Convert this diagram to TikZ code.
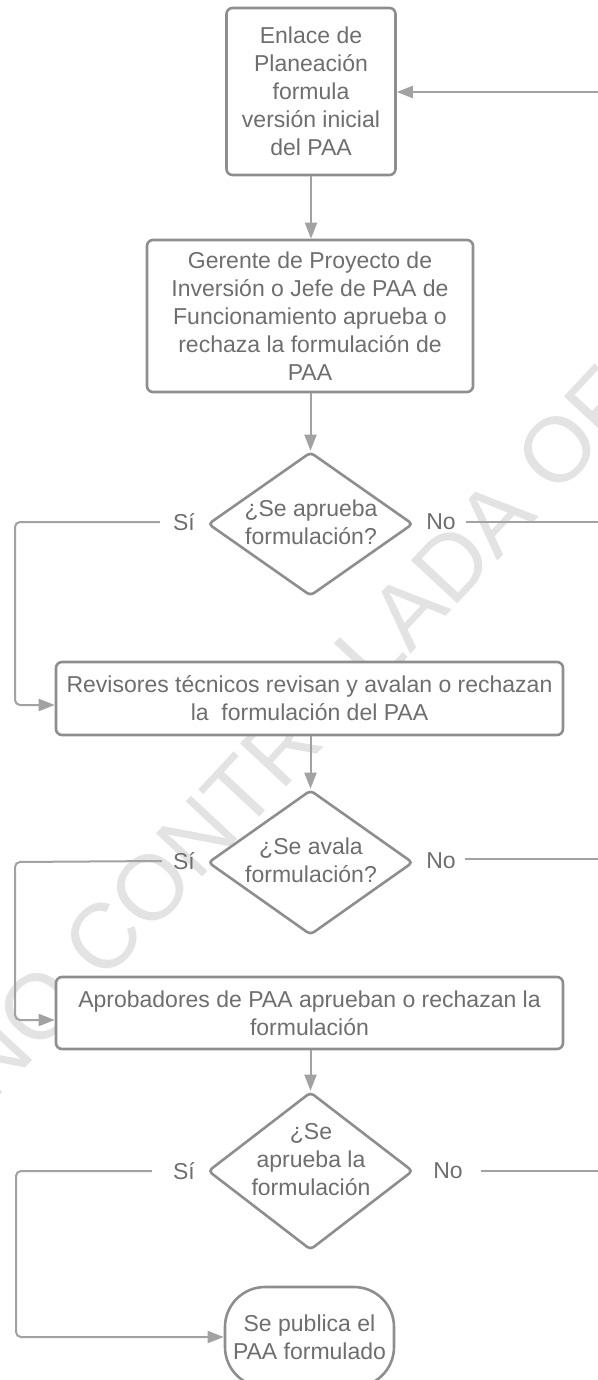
\documentclass[tikz,border=0pt]{standalone}
\usepackage{fontspec}
\setmainfont{Liberation Sans}
\usetikzlibrary{shapes.geometric,arrows.meta}
\definecolor{txt}{HTML}{6E6E6E}
\definecolor{edge}{HTML}{8E8E8E}
\definecolor{conn}{HTML}{A2A2A2}
\definecolor{wm}{HTML}{E3E3E3}
\begin{document}
\begin{tikzpicture}[x=1pt,y=-1pt,
  every node/.style={text=txt, font=\fontsize{23}{28}\selectfont},
  procbox/.style={draw=edge, line width=2.6pt, fill=white, rounded corners=6pt, align=center, inner sep=0pt},
  decbox/.style={draw=edge, line width=2.6pt, fill=white, diamond, rounded corners=4pt, inner sep=0pt},
  dectext/.style={align=center, inner sep=0pt},
  lbl/.style={inner sep=0pt},
  conn/.style={draw=conn, line width=2pt, rounded corners=5pt},
  arr/.style={conn, -{Triangle[length=16pt,width=12pt]}}
]
\useasboundingbox (0,0) rectangle (597,1380);
% watermark
\begin{scope}
\clip (0,0) rectangle (597,1380);
\node[text=wm, font=\fontsize{92}{92}\selectfont, rotate=47, inner sep=0pt] (wmark) at (295,732) {NO CONTROLADA OF};
\end{scope}

% nodes
\node[procbox, minimum width=169pt, minimum height=167pt] (b1) at (311,91.5)
  {Enlace de\\Planeación\\formula\\versión inicial\\del PAA};
\node[procbox, minimum width=326pt, minimum height=152pt] (b2) at (310,316)
  {Gerente de Proyecto de\\Inversión o Jefe de PAA de\\Funcionamiento aprueba o\\rechaza la formulación de\\PAA};
\node[decbox, minimum width=205pt, minimum height=144pt] (d1) at (310.5,524) {};
\node[dectext] (d1t) at (311,522) {¿Se aprueba\\formulación?};
\node[procbox, minimum width=507pt, minimum height=73pt] (b3) at (309.5,698.5)
  {Revisores técnicos revisan y avalan o rechazan\\la\ \ formulación del PAA};
\node[decbox, minimum width=205pt, minimum height=145pt] (d2) at (310.5,862.5) {};
\node[dectext] (d2t) at (311,860) {¿Se avala\\formulación?};
\node[procbox, minimum width=507pt, minimum height=72pt] (b4) at (309.5,1013)
  {Aprobadores de PAA aprueban o rechazan la\\formulación};
\node[decbox, minimum width=205pt, minimum height=158pt] (d3) at (310.5,1171) {};
\node[dectext] (d3t) at (311,1160) {¿Se\\aprueba la\\formulación};
\node[procbox, rounded corners=40pt, minimum width=169pt, minimum height=100pt] (b5) at (309.5,1337)
  {Se publica el\\PAA formulado};

% labels
\node[lbl] (s1) at (184,522) {Sí};
\node[lbl] (n1) at (441,522) {No};
\node[lbl] (s2) at (184,861) {Sí};
\node[lbl] (n2) at (441,861) {No};
\node[lbl] (s3) at (184,1171) {Sí};
\node[lbl] (n3) at (448,1171) {No};

% free ends at the right edge
\coordinate (r0) at (598,92);
\coordinate (r1) at (598,522);
\coordinate (r2) at (598,859);
\coordinate (r3) at (598,1171);

% connectors
\draw[arr] (r0) -- (b1.east |- r0);
\draw[arr] (b1.south) -- (b1.south |- b2.north);
\draw[arr] (b2.south -| d1.north) -- (d1.north);
\draw[arr] (b3.south -| d2.north) -- (d2.north);
\draw[arr] (b4.south -| d3.north) -- (d3.north);

\draw[arr] ([xshift=-13pt]s1.west) -- (15,522) |- ([yshift=-6.5pt]b3.west);
\draw[arr] ([xshift=-11pt]s2.west) -- (15,862) |- ([yshift=-7pt]b4.west);
\draw[arr] ([xshift=-21pt]s3.west) -- (16,1171) |- (b5.west);

\draw[conn] ([xshift=10pt]n1.east) -- (r1);
\draw[conn] ([xshift=9pt]n2.east |- r2) -- (r2);
\draw[conn] ([xshift=18pt]n3.east) -- (r3);
\end{tikzpicture}
\end{document}
